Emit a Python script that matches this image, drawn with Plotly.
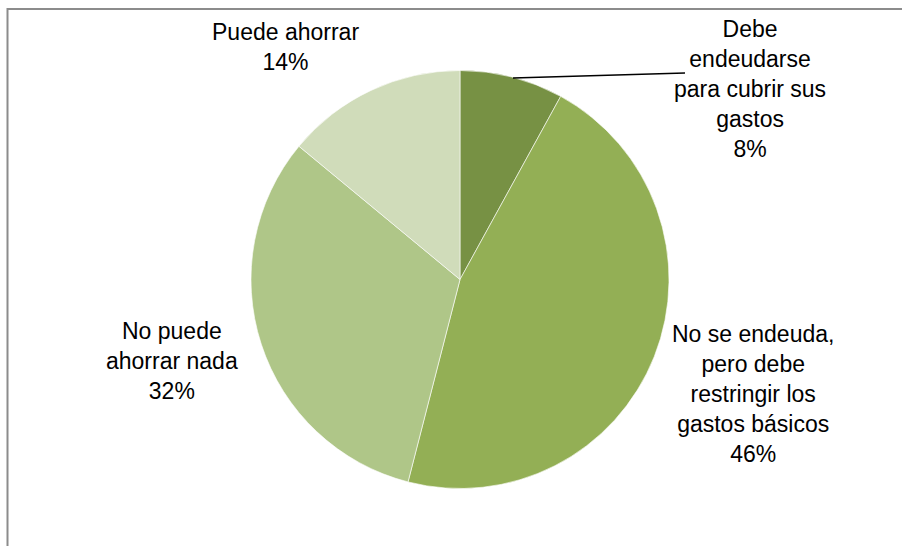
import plotly.graph_objects as go

categories = [
    "Debe endeudarse para cubrir sus gastos",
    "No se endeuda, pero debe restringir los gastos básicos",
    "No puede ahorrar nada",
    "Puede ahorrar",
]
label_lines = [
    ["Debe", "endeudarse", "para cubrir sus", "gastos"],
    ["No se endeuda,", "pero debe", "restringir los", "gastos básicos"],
    ["No puede", "ahorrar nada"],
    ["Puede ahorrar"],
]
values = [8, 46, 32, 14]
colors = ["#779144", "#93AF55", "#AFC688", "#D0DCBA"]

W, H = 902, 546
cx, cy, r = 460, 279.5, 209

fig = go.Figure(go.Pie(
    labels=categories,
    values=values,
    sort=False,
    direction="clockwise",
    rotation=0,
    marker=dict(colors=colors, line=dict(color="rgba(255,255,255,0.6)", width=1)),
    textinfo="none",
    hoverinfo="label+percent",
    domain=dict(x=[(cx - r) / W, (cx + r) / W], y=[(H - cy - r) / H, (H - cy + r) / H]),
    showlegend=False,
))

# label block centres in pixels (layout only)
label_pos = [(750, 89), (753, 394), (172, 361), (285, 47)]
total = sum(values)
annotations = []
for lines, v, (px, py) in zip(label_lines, values, label_pos):
    text = "<br>".join(lines + [f"{round(100 * v / total)}%"])
    annotations.append(dict(
        x=px / W, y=1 - py / H, xref="paper", yref="paper",
        text=text, showarrow=False, xanchor="center", yanchor="middle",
        align="center", font=dict(family="Liberation Sans, Arial, sans-serif", size=23, color="#000000"),
    ))

shapes = [
    # leader line for the small slice
    dict(type="line", xref="paper", yref="paper",
         x0=513 / W, y0=1 - 78 / H, x1=685 / W, y1=1 - 73 / H,
         line=dict(color="#000000", width=1.5)),
    # chart frame (extends beyond visible area on right/bottom)
    dict(type="rect", xref="paper", yref="paper",
         x0=7.5 / W, y0=-0.05, x1=1.05, y1=1 - 9 / H,
         line=dict(color="#8C8C8C", width=2)),
]

fig.update_layout(
    width=W, height=H,
    margin=dict(l=0, r=0, t=0, b=0),
    paper_bgcolor="#FFFFFF",
    plot_bgcolor="#FFFFFF",
    annotations=annotations,
    shapes=shapes,
)

fig.write_html(
    "out.html",
    config={"displayModeBar": False},
    post_script="document.body.style.margin='0';document.body.style.overflow='hidden';",
)
